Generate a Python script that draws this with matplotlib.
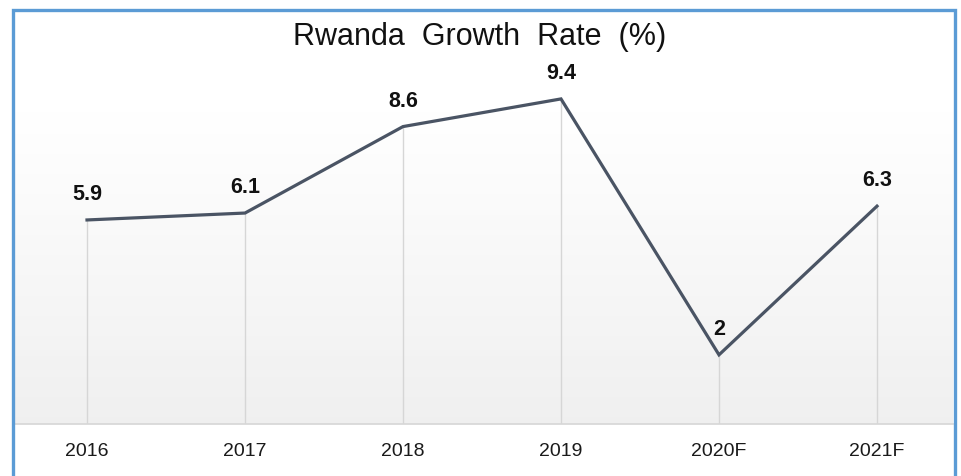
import numpy as np
import matplotlib.pyplot as plt
from matplotlib.patches import Rectangle

years = ["2016", "2017", "2018", "2019", "2020F", "2021F"]
growth = [5.9, 6.1, 8.6, 9.4, 2.0, 6.3]
value_labels = ["5.9", "6.1", "8.6", "9.4", "2", "6.3"]

fig = plt.figure(figsize=(9.62, 4.77), dpi=100)
fig.patch.set_facecolor("white")
W, H = 962, 477
left_px, right_px = 14, 953
ax = fig.add_axes([left_px / W, (H - 425) / H, (right_px - left_px) / W, (425 - 10) / H])

x = np.arange(len(years))
step = 158.0
x0 = (left_px - 87) / step
x1 = (right_px - 87) / step
ax.set_xlim(x0, x1)
ax.set_ylim(0, 12)

# soft vertical gradient behind the plot
grad = np.linspace(0, 1, 256)
col_top = np.array([1.0, 1.0, 1.0])
col_bot = np.array([0.94, 0.94, 0.94])
t = np.clip(grad / 0.75, 0, 1)[:, None]
img = col_bot * (1 - t) + col_top * t
ax.imshow(img[:, None, :], extent=[x0, x1, 0, 12],
          aspect="auto", origin="lower", zorder=0)

# drop lines from each point down to the axis
ax.vlines(x, 0, growth, color="#d6d6d6", lw=1.0, zorder=1)

ax.plot(x, growth, color="#4a5464", lw=2.3, solid_joinstyle="miter", zorder=3)

for xi, yi, lab in zip(x, growth, value_labels):
    ax.annotate(lab, (xi, yi), xytext=(0, 15), textcoords="offset points",
                ha="center", va="baseline", fontsize=15.5, fontweight="bold",
                family="Liberation Sans", color="#111111", zorder=4)

for s in ["left", "right", "top"]:
    ax.spines[s].set_visible(False)
ax.spines["bottom"].set_color("#d6d6d6")
ax.spines["bottom"].set_linewidth(1.2)
ax.set_yticks([])
ax.set_xticks(x)
ax.set_xticklabels(years, fontsize=14, family="Liberation Sans", color="#1a1a1a")
ax.tick_params(axis="x", length=0, pad=13)

fig.text(480 / W, 1 - 45 / H, "Rwanda  Growth  Rate  (%)", ha="center", va="baseline",
         fontsize=22, family="Liberation Sans", color="#111111")

# frame around the figure
fig.patches.append(Rectangle((12.5 / W, -0.05), (955.5 - 12.5) / W, 1 - 10.5 / H + 0.05,
                             transform=fig.transFigure, fill=False,
                             edgecolor="#5b9bd5", lw=2.4, clip_on=False))

fig.savefig("out.png", dpi=100)
